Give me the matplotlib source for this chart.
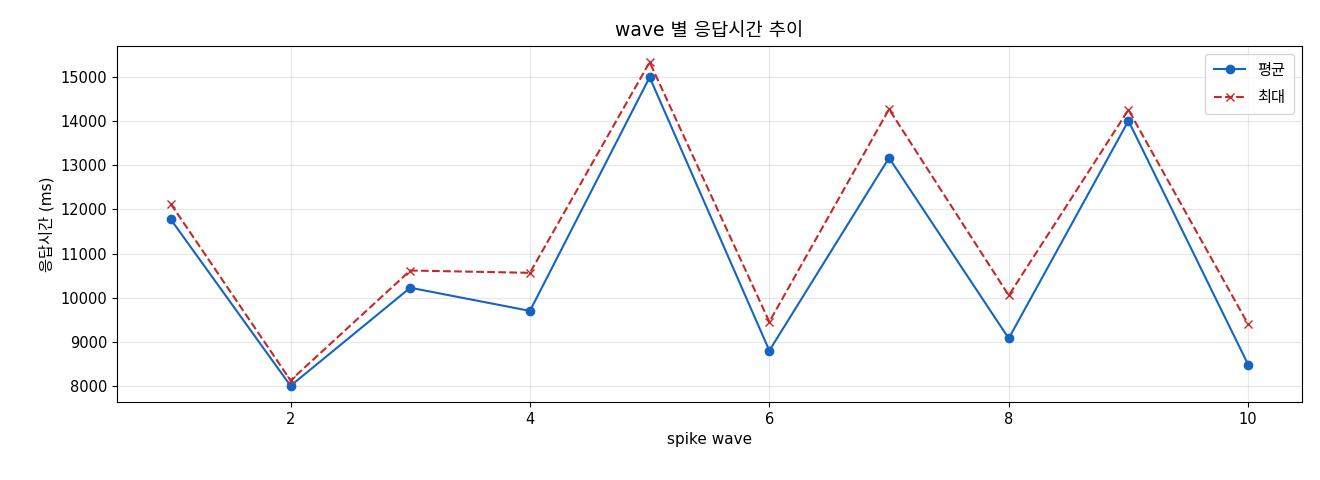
import matplotlib
matplotlib.use("Agg")
import matplotlib.pyplot as plt

waves = [1, 2, 3, 4, 5, 6, 7, 8, 9, 10]
avg_ms = [11774, 8013, 10231, 9707, 14990, 8809, 13167, 9085, 14005, 8494]
max_ms = [12125, 8135, 10620, 10568, 15331, 9460, 14268, 10058, 14253, 9406]

plt.rcParams["font.family"] = ["DejaVu Sans", "Noto Sans CJK KR"]
plt.rcParams["axes.unicode_minus"] = False

fig, ax = plt.subplots(figsize=(13.2, 4.8), dpi=100)
ax.plot(waves, avg_ms, marker="o", color="#1565C0", linewidth=1.5, markersize=6, label="평균")
ax.plot(waves, max_ms, marker="x", linestyle="--", color="#C62828", linewidth=1.5, markersize=6, label="최대")

ax.set_title("wave 별 응답시간 추이", fontsize=13.5, pad=7)
ax.set_xlabel("spike wave", fontsize=11)
ax.set_ylabel("응답시간 (ms)", fontsize=11)
ax.tick_params(labelsize=10.5)
ax.grid(True, alpha=0.3)
ax.legend(loc="upper right", fontsize=11, labelspacing=0.8, borderpad=0.6)

fig.subplots_adjust(left=117 / 1320, right=1302 / 1320, top=1 - 46 / 480, bottom=1 - 402 / 480)
fig.savefig("out.png")
